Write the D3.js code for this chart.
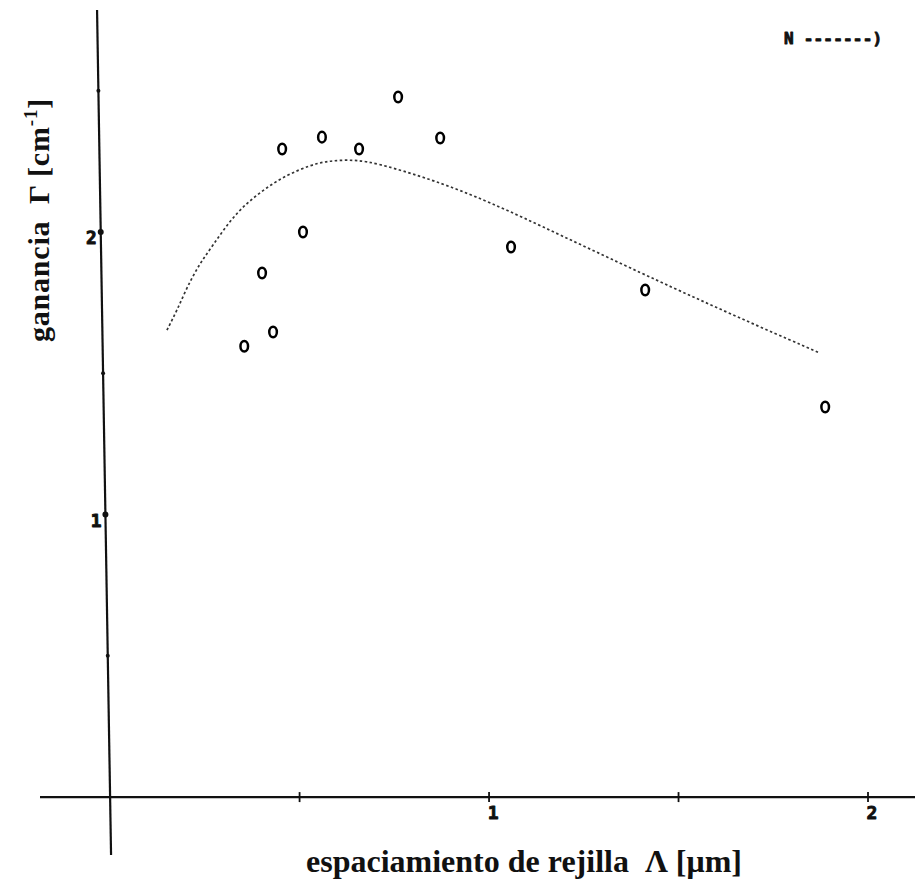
<!DOCTYPE html>
<html>
<head>
<meta charset="utf-8">
<script src="https://cdn.jsdelivr.net/npm/d3@7"></script>
<style>
  html, body { margin: 0; padding: 0; background: #fff; }
  svg { display: block; }
</style>
</head>
<body>
<svg id="chart" width="915" height="886"></svg>
<script>
// Measured gain vs. grating spacing
const spacingMeasured = [0.354, 0.401, 0.430, 0.454, 0.509, 0.559, 0.657, 0.760, 0.871, 1.058, 1.412, 1.887];
const gainMeasured    = [1.596, 1.855, 1.646, 2.294, 2.000, 2.336, 2.294, 2.478, 2.333, 1.947, 1.795, 1.381];

// Theoretical gain curve
const spacingModel = [0.150, 0.177, 0.203, 0.237, 0.272, 0.317, 0.361, 0.414, 0.467, 0.528, 0.573, 0.625, 0.678, 0.747, 0.852, 0.997, 1.187, 1.412, 1.557, 1.715, 1.873];
const gainModel    = [1.653, 1.724, 1.805, 1.890, 1.954, 2.042, 2.103, 2.159, 2.202, 2.237, 2.251, 2.256, 2.251, 2.227, 2.184, 2.110, 1.990, 1.848, 1.759, 1.664, 1.572];

const xTicks = [0.5, 1, 1.5, 2];
const xTickLabels = ["", "1", "", "2"];
const yTicks = [0.5, 1, 1.5, 2, 2.5];
const yTickLabels = ["", "1", "", "2", ""];

const xTitle = "espaciamiento de rejilla  Λ [μm]";
const legendText = "N -------)";

const svg = d3.select("#chart");

const x = d3.scaleLinear().domain([-0.185, 2.124]).range([40, 915]);
const y = d3.scaleLinear().domain([-0.205, 2.786]).range([855, 10]);

const x0 = x(0), y0 = y(0);

// plotter-style bold digits
function plotterText(sel, size) {
  return sel
    .attr("font-family", "DejaVu Sans Mono, monospace")
    .attr("font-weight", "bold").attr("font-size", size)
    .attr("fill", "#111")
    .attr("stroke", "#111").attr("stroke-width", 0.9)
    .attr("stroke-linejoin", "round");
}

// x axis
const xAxis = svg.append("g").attr("transform", `translate(0,${y0})`);
xAxis.append("line")
  .attr("x1", x.range()[0]).attr("x2", x.range()[1])
  .attr("stroke", "#111").attr("stroke-width", 2.2);
xAxis.selectAll("line.tick").data(xTicks).join("line")
  .attr("class", "tick")
  .attr("x1", d => x(d)).attr("x2", d => x(d))
  .attr("y1", -5).attr("y2", 5)
  .attr("stroke", "#111").attr("stroke-width", 1.8);
plotterText(xAxis.selectAll("text").data(xTicks).join("text"), 18)
  .attr("x", d => x(d) + 4).attr("y", 22)
  .attr("text-anchor", "middle")
  .text((d, i) => xTickLabels[i]);

// y axis (drawn with the slight lean of the plotter)
const yAxis = svg.append("g").attr("transform", `translate(${x0},${y0}) skewX(0.95) translate(0,${-y0})`);
yAxis.append("line")
  .attr("y1", y.range()[0]).attr("y2", y.range()[1])
  .attr("stroke", "#111").attr("stroke-width", 2.2);
yAxis.selectAll("circle.tick").data(yTicks).join("circle")
  .attr("class", "tick")
  .attr("cx", 0).attr("cy", d => y(d))
  .attr("r", (d, i) => yTickLabels[i] ? 3 : 2)
  .attr("fill", "#111");
plotterText(yAxis.selectAll("text").data(yTicks).join("text"), 18)
  .attr("x", -4).attr("y", d => y(d) + 12)
  .attr("text-anchor", "end")
  .text((d, i) => yTickLabels[i]);

// model curve
const modelPts = spacingModel.map((s, i) => [s, gainModel[i]]);
svg.append("path")
  .datum(modelPts)
  .attr("d", d3.line().x(d => x(d[0])).y(d => y(d[1])).curve(d3.curveBasis))
  .attr("fill", "none")
  .attr("stroke", "#333")
  .attr("stroke-width", 1.7)
  .attr("stroke-dasharray", "2.5,2.5");

// measured points
const measPts = spacingMeasured.map((s, i) => [s, gainMeasured[i]]);
svg.selectAll("ellipse.pt").data(measPts).join("ellipse")
  .attr("class", "pt")
  .attr("cx", d => x(d[0])).attr("cy", d => y(d[1]))
  .attr("rx", 3.8).attr("ry", 5.3)
  .attr("fill", "none")
  .attr("stroke", "#000")
  .attr("stroke-width", 2.5);

// legend
plotterText(svg.append("text"), 16)
  .attr("x", 784).attr("y", 44)
  .attr("letter-spacing", 0.2)
  .attr("xml:space", "preserve")
  .text(legendText);

// axis titles
svg.append("text")
  .attr("x", 524).attr("y", 872)
  .attr("text-anchor", "middle")
  .attr("font-family", "Liberation Serif, Times New Roman, serif")
  .attr("font-weight", "bold").attr("font-size", 32)
  .attr("fill", "#111")
  .attr("xml:space", "preserve")
  .text(xTitle);

const yTitle = svg.append("text")
  .attr("transform", "translate(49,220) rotate(-90)")
  .attr("text-anchor", "middle")
  .attr("font-family", "Liberation Serif, Times New Roman, serif")
  .attr("font-weight", "bold").attr("font-size", 30)
  .attr("letter-spacing", 0.8)
  .attr("fill", "#111")
  .attr("xml:space", "preserve");
yTitle.append("tspan").text("ganancia  Γ [cm");
yTitle.append("tspan").attr("dy", -12).attr("font-size", 19).text("-1");
yTitle.append("tspan").attr("dy", 12).text("]");
</script>
</body>
</html>
